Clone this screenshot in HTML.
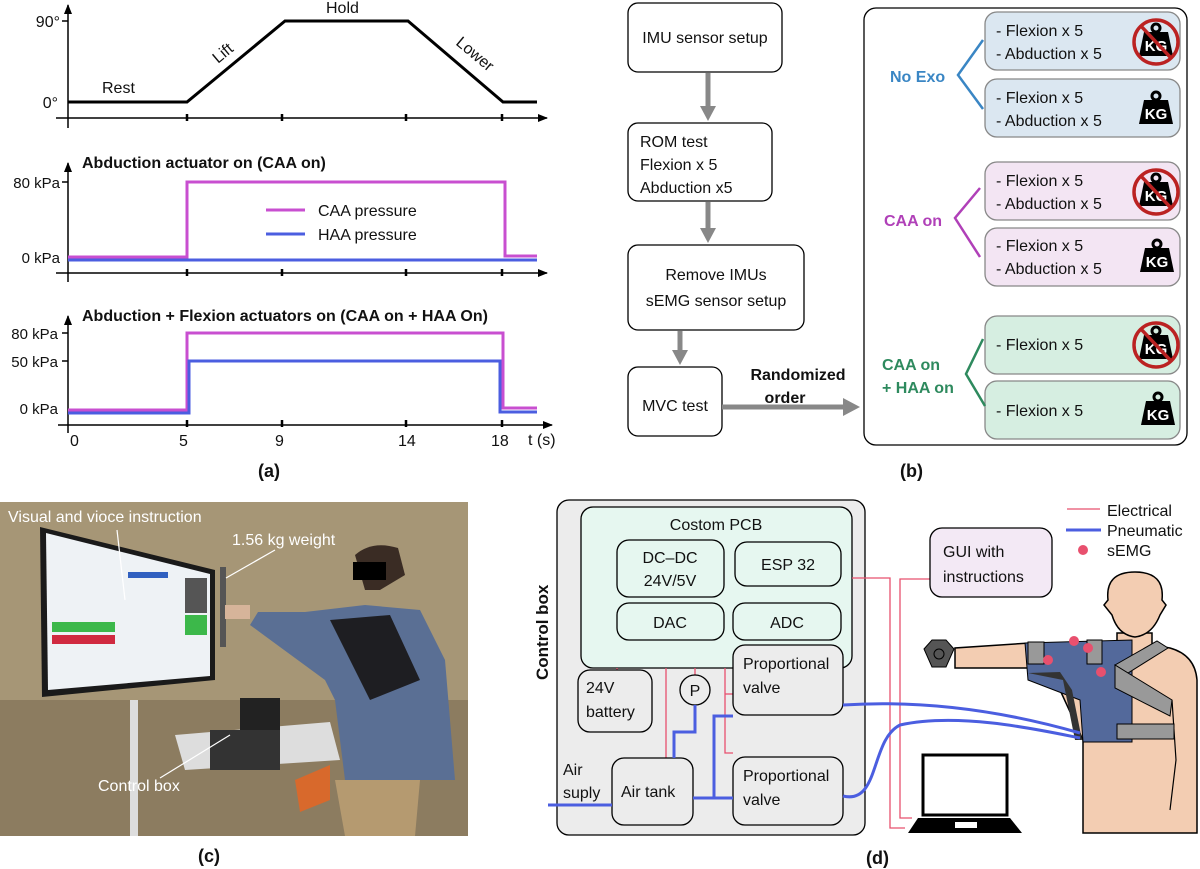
<!DOCTYPE html>
<html><head><meta charset="utf-8"><style>
html,body{margin:0;padding:0;background:#fff}
svg{display:block}
text{font-family:"Liberation Sans",sans-serif;fill:#111}
.b{font-weight:bold}
</style></head><body>
<svg width="1200" height="869" viewBox="0 0 1200 869" xmlns="http://www.w3.org/2000/svg">
<defs>
<marker id="ar" markerWidth="10" markerHeight="8" refX="9" refY="4" orient="auto" markerUnits="userSpaceOnUse"><path d="M0,0 L10,4 L0,8 Z" fill="#000"/></marker>
<g id="kg"><circle cx="0" cy="-14" r="4" fill="none" stroke="#000" stroke-width="3"/><path d="M-12,-10 L12,-10 L17,14 L-17,14 Z" fill="#000"/><text x="0" y="9" font-size="15" class="b" text-anchor="middle" style="fill:#fff">KG</text></g>
<g id="nokg"><use href="#kg"/><circle cx="0" cy="0" r="22" fill="none" stroke="#b22" stroke-width="3.5"/><line x1="-15" y1="-16" x2="15" y2="16" stroke="#b22" stroke-width="3.5"/></g>
</defs>

<!-- (a) top chart -->
<g stroke="#000" stroke-width="1.5" fill="none">
<line x1="68" y1="128" x2="68" y2="5" marker-end="url(#ar)"/>
<line x1="56" y1="118" x2="547" y2="118" marker-end="url(#ar)"/>
<line x1="62" y1="21" x2="68" y2="21"/>
<path d="M187,114V121M282,114V121M406,114V121M502,114V121" stroke-width="2.5"/>
<polyline points="68,102 187,102 285,21 408,21 503,102 537,102" stroke-width="3"/>
</g>
<text x="60" y="27" font-size="16" text-anchor="end">90°</text>
<text x="58" y="108" font-size="16" text-anchor="end">0°</text>
<text x="102" y="93" font-size="16">Rest</text>
<text x="326" y="13" font-size="16">Hold</text>
<text x="0" y="0" font-size="16" transform="translate(218,64) rotate(-40)">Lift</text>
<text x="0" y="0" font-size="16" transform="translate(455,44) rotate(40)">Lower</text>

<!-- chart 2 -->
<g stroke="#000" stroke-width="1.5" fill="none">
<line x1="68" y1="282" x2="68" y2="163" marker-end="url(#ar)"/>
<line x1="56" y1="273" x2="547" y2="273" marker-end="url(#ar)"/>
<line x1="62" y1="182" x2="68" y2="182"/>
<path d="M187,269V276M282,269V276M406,269V276M502,269V276" stroke-width="2.5"/>
</g>
<polyline points="68,257 187,257 187,182 505,182 505,256 537,256" fill="none" stroke="#c84fd0" stroke-width="3"/>
<line x1="68" y1="260" x2="537" y2="260" stroke="#4b5ee0" stroke-width="3"/>
<text x="82" y="168" font-size="16" class="b">Abduction actuator on (CAA on)</text>
<text x="60" y="188" font-size="15" text-anchor="end">80 kPa</text>
<text x="60" y="263" font-size="15" text-anchor="end">0 kPa</text>
<line x1="266" y1="210" x2="305" y2="210" stroke="#c84fd0" stroke-width="3"/>
<line x1="266" y1="234" x2="305" y2="234" stroke="#4b5ee0" stroke-width="3"/>
<text x="318" y="216" font-size="16">CAA pressure</text>
<text x="318" y="240" font-size="16">HAA pressure</text>

<!-- chart 3 -->
<g stroke="#000" stroke-width="1.5" fill="none">
<line x1="68" y1="433" x2="68" y2="316" marker-end="url(#ar)"/>
<line x1="58" y1="425" x2="552" y2="425" marker-end="url(#ar)"/>
<line x1="62" y1="333" x2="68" y2="333"/><line x1="62" y1="361" x2="68" y2="361"/>
<path d="M187,420V427M282,420V427M406,420V427M502,420V427" stroke-width="2.5"/>
</g>
<polyline points="68,410 187,410 187,333 503,333 503,408 537,408" fill="none" stroke="#c84fd0" stroke-width="3"/>
<polyline points="68,413 189,413 189,361 500,361 500,412 537,412" fill="none" stroke="#4b5ee0" stroke-width="3"/>
<text x="82" y="321" font-size="16" class="b">Abduction + Flexion actuators on (CAA on + HAA On)</text>
<text x="58" y="339" font-size="15" text-anchor="end">80 kPa</text>
<text x="58" y="367" font-size="15" text-anchor="end">50 kPa</text>
<text x="58" y="414" font-size="15" text-anchor="end">0 kPa</text>
<g font-size="16"><text x="70" y="446">0</text><text x="179" y="446">5</text><text x="275" y="446">9</text><text x="398" y="446">14</text><text x="491" y="446">18</text><text x="528" y="445">t (s)</text></g>
<text x="258" y="477" font-size="18" class="b">(a)</text>

<!-- (b) -->
<g fill="#fff" stroke="#000" stroke-width="1.3">
<rect x="628" y="3" width="154" height="69" rx="10"/>
<rect x="628" y="123" width="144" height="78" rx="10"/>
<rect x="628" y="245" width="176" height="85" rx="10"/>
<rect x="628" y="367" width="94" height="69" rx="10"/>
<rect x="864" y="8" width="323" height="437" rx="12"/>
</g>
<g font-size="16"><text x="705" y="43" text-anchor="middle">IMU sensor setup</text>
<text x="640" y="147">ROM test</text><text x="640" y="170">Flexion x 5</text><text x="640" y="193">Abduction x5</text>
<text x="716" y="280" text-anchor="middle">Remove IMUs</text><text x="716" y="306" text-anchor="middle">sEMG sensor setup</text>
<text x="675" y="411" text-anchor="middle">MVC test</text></g>
<g stroke="#888" stroke-width="5"><line x1="708" y1="73" x2="708" y2="108"/><line x1="708" y1="202" x2="708" y2="230"/><line x1="680" y1="331" x2="680" y2="352"/><line x1="722" y1="407" x2="845" y2="407"/></g>
<path d="M700,106 L716,106 L708,121 Z M700,228 L716,228 L708,243 Z M672,350 L688,350 L680,365 Z M843,398 L860,407 L843,416 Z" fill="#888"/>
<text x="798" y="380" font-size="16" class="b" text-anchor="middle">Randomized</text>
<text x="785" y="403" font-size="16" class="b" text-anchor="middle">order</text>
<g stroke="#888" stroke-width="1.3">
<rect x="985" y="12" width="195" height="58" rx="12" fill="#dbe7f1"/>
<rect x="985" y="79" width="195" height="58" rx="12" fill="#dbe7f1"/>
<rect x="985" y="162" width="195" height="58" rx="12" fill="#f3e5f3"/>
<rect x="985" y="228" width="195" height="58" rx="12" fill="#f3e5f3"/>
<rect x="985" y="316" width="195" height="58" rx="12" fill="#d6eee1"/>
<rect x="985" y="381" width="195" height="58" rx="12" fill="#d6eee1"/>
</g>
<g font-size="16">
<text x="996" y="36">- Flexion x 5</text><text x="996" y="59">- Abduction x 5</text>
<text x="996" y="103">- Flexion x 5</text><text x="996" y="126">- Abduction x 5</text>
<text x="996" y="186">- Flexion x 5</text><text x="996" y="209">- Abduction x 5</text>
<text x="996" y="251">- Flexion x 5</text><text x="996" y="274">- Abduction x 5</text>
<text x="996" y="350">- Flexion x 5</text><text x="996" y="416">- Flexion x 5</text>
</g>
<use href="#nokg" x="1156" y="42"/><use href="#kg" x="1156" y="110"/>
<use href="#nokg" x="1156" y="192"/><use href="#kg" x="1157" y="258"/>
<use href="#nokg" x="1156" y="345"/><use href="#kg" x="1158" y="411"/>
<polyline points="983,40 958,75 983,109" fill="none" stroke="#3a86c4" stroke-width="2.5"/>
<polyline points="980,188 955,218 980,257" fill="none" stroke="#b040b8" stroke-width="2.5"/>
<polyline points="983,339 966,374 985,406" fill="none" stroke="#2e8a5e" stroke-width="2.5"/>
<text x="890" y="82" font-size="16" class="b" style="fill:#3a86c4">No Exo</text>
<text x="884" y="226" font-size="16" class="b" style="fill:#b040b8">CAA on</text>
<text x="882" y="370" font-size="16" class="b" style="fill:#2e8a5e">CAA  on</text>
<text x="882" y="393" font-size="16" class="b" style="fill:#2e8a5e">+ HAA on</text>
<text x="900" y="477" font-size="18" class="b">(b)</text>

<!-- (c) photo -->
<rect x="0" y="502" width="468" height="334" fill="#a69676"/>
<rect x="0" y="700" width="468" height="136" fill="#8c7c60"/>
<polygon points="40,527 215,570 215,680 42,697" fill="#1a1a1a"/>
<polygon points="46,533 210,574 210,676 48,690" fill="#eef2f5"/>
<rect x="52" y="622" width="63" height="10" fill="#3cb84a"/>
<rect x="52" y="635" width="63" height="9" fill="#d02a40"/>
<rect x="185" y="578" width="22" height="35" fill="#555"/><rect x="185" y="615" width="22" height="20" fill="#3cb84a"/>
<rect x="128" y="572" width="40" height="6" fill="#3060c0"/>
<rect x="130" y="700" width="8" height="136" fill="#ddd"/>
<polygon points="175,735 330,722 340,760 185,770" fill="#ddd"/>
<rect x="210" y="730" width="70" height="40" fill="#333"/>
<rect x="240" y="698" width="40" height="32" fill="#222"/>
<path d="M295,780 L330,765 L330,800 L300,812 Z" fill="#d8692c"/>
<rect x="220" y="567" width="6" height="80" fill="#555"/>
<path d="M355,555 Q372,540 398,548 L405,575 L380,590 L365,590 Z" fill="#3a2c24"/>
<rect x="353" y="562" width="33" height="18" fill="#000"/>
<path d="M365,605 L420,610 L445,660 L455,780 L345,780 L335,700 L325,680 L250,625 L258,612 L305,612 Z" fill="#5a6f94"/>
<path d="M330,620 L390,615 L420,680 L370,700 Z" fill="#1e1e22"/>
<rect x="225" y="605" width="25" height="14" fill="#d6b49a"/>
<path d="M335,780 L420,780 L415,836 L345,836 Z" fill="#b59a70"/>
<line x1="117" y1="530" x2="125" y2="600" stroke="#fff" stroke-width="1.2"/>
<line x1="275" y1="550" x2="226" y2="578" stroke="#fff" stroke-width="1.2"/>
<line x1="160" y1="778" x2="230" y2="735" stroke="#fff" stroke-width="1.2"/>
<text x="8" y="522" font-size="16" style="fill:#fff">Visual and vioce instruction</text>
<text x="232" y="545" font-size="16" style="fill:#fff">1.56 kg weight</text>
<text x="98" y="791" font-size="16" style="fill:#fff">Control box</text>
<text x="198" y="862" font-size="18" class="b">(c)</text>

<!-- (d) -->
<rect x="557" y="500" width="308" height="335" rx="12" fill="#ececec" stroke="#000" stroke-width="1.3"/>
<rect x="581" y="507" width="271" height="161" rx="12" fill="#e6f7f0" stroke="#000" stroke-width="1.3"/>
<g fill="#e6f7f0" stroke="#000" stroke-width="1.3">
<rect x="617" y="540" width="107" height="57" rx="12"/><rect x="735" y="542" width="106" height="44" rx="12"/>
<rect x="617" y="603" width="107" height="37" rx="12"/><rect x="733" y="603" width="108" height="37" rx="12"/>
</g>
<g stroke="#e8506e" stroke-width="1.3" fill="none">
<line x1="617" y1="668" x2="617" y2="671"/><line x1="666" y1="668" x2="666" y2="758"/>
<line x1="695" y1="668" x2="695" y2="676"/>
<polyline points="725,668 725,753 733,753"/><line x1="725" y1="694" x2="733" y2="694"/>
<polyline points="852,578 890,578 890,828 905,828"/>
<polyline points="930,579 900,579 900,818 912,818"/>
<line x1="1067" y1="509" x2="1100" y2="509"/>
</g>
<g fill="#ececec" stroke="#000" stroke-width="1.3">
<rect x="578" y="670" width="74" height="62" rx="12"/>
<rect x="733" y="645" width="110" height="70" rx="12"/>
<rect x="612" y="758" width="81" height="67" rx="12"/>
<rect x="733" y="757" width="110" height="68" rx="12"/>
<circle cx="695" cy="690" r="15"/>
</g>
<g stroke="#4b5ee0" stroke-width="3" fill="none">
<line x1="548" y1="805" x2="612" y2="805"/>
<polyline points="695,705 695,732 674,732 674,758"/>
<polyline points="693,798 733,798"/><polyline points="714,798 714,716 733,716"/>
<line x1="1066" y1="530" x2="1101" y2="530"/>
</g>
<circle cx="1083" cy="550" r="5" fill="#e8506e"/>
<g font-size="16">
<text x="716" y="530" text-anchor="middle">Costom PCB</text>
<text x="670" y="563" text-anchor="middle">DC–DC</text><text x="670" y="586" text-anchor="middle">24V/5V</text>
<text x="788" y="570" text-anchor="middle">ESP 32</text>
<text x="670" y="628" text-anchor="middle">DAC</text><text x="787" y="628" text-anchor="middle">ADC</text>
<text x="586" y="693">24V</text><text x="586" y="717">battery</text>
<text x="695" y="696" text-anchor="middle">P</text>
<text x="743" y="669">Proportional</text><text x="743" y="693">valve</text>
<text x="743" y="781">Proportional</text><text x="743" y="805">valve</text>
<text x="621" y="797">Air tank</text>
<text x="563" y="775">Air</text><text x="563" y="798">suply</text>
<text x="1107" y="516">Electrical</text><text x="1107" y="536">Pneumatic</text><text x="1107" y="556">sEMG</text>
</g>
<text x="0" y="0" font-size="17" class="b" transform="translate(548,680) rotate(-90)">Control box</text>
<rect x="930" y="528" width="122" height="69" rx="12" fill="#f3e9f5" stroke="#000" stroke-width="1.3"/>
<text x="943" y="557" font-size="16">GUI with</text><text x="943" y="582" font-size="16">instructions</text>
<!-- laptop -->
<rect x="923" y="755" width="84" height="60" fill="#fff" stroke="#000" stroke-width="3"/>
<path d="M918,818 L1010,818 L1022,833 L908,833 Z" fill="#000"/><rect x="955" y="822" width="22" height="6" fill="#fff"/>
<!-- human -->
<path d="M1117,633 L1117,645 L1070,648 L1030,643 L955,648 L955,668 L1030,668 L1060,690 L1083,740 L1083,833 L1197,833 L1197,680 Q1195,655 1170,648 L1152,645 L1152,633 Z" fill="#f3cdb2" stroke="#000" stroke-width="1.5"/>
<path d="M1172,700 L1176,760 L1170,810" fill="none" stroke="#000" stroke-width="1.2"/>
<path d="M1108,600 Q1105,572 1135,572 Q1165,572 1162,600 L1166,605 L1160,615 Q1152,635 1135,637 Q1118,635 1112,615 L1104,605 Z" fill="#f3cdb2" stroke="#000" stroke-width="1.5"/>
<path d="M1025,643 L1132,640 L1132,742 L1083,742 L1080,700 L1028,680 Z" fill="#53699b" stroke="#000" stroke-width="1"/>
<path d="M1028,673 L1063,680 L1075,740 L1082,740 L1072,690 L1060,672 Z" fill="#333"/>
<polygon points="1115,665 1157,641 1168,648 1128,673" fill="#999" stroke="#000"/>
<polygon points="1115,665 1128,673 1172,700 1170,716 1115,688" fill="#999" stroke="#000"/>
<rect x="1117" y="724" width="57" height="15" fill="#999" stroke="#000"/>
<rect x="1028" y="642" width="16" height="22" fill="#999" stroke="#000"/><rect x="1087" y="640" width="15" height="24" fill="#999" stroke="#000"/>
<polygon points="924,649 932,640 946,640 954,649 946,667 932,667" fill="#555" stroke="#000"/><circle cx="939" cy="654" r="5" fill="none" stroke="#000"/>
<g fill="#e8506e"><circle cx="1074" cy="641" r="5"/><circle cx="1048" cy="660" r="5"/><circle cx="1088" cy="648" r="5"/><circle cx="1101" cy="672" r="5"/></g>
<g stroke="#4b5ee0" stroke-width="3" fill="none">
<path d="M843,705 C920,700 1000,710 1080,733"/>
<path d="M843,796 C880,805 870,740 900,725 C960,712 1040,730 1080,738"/>
</g>
<text x="866" y="864" font-size="18" class="b">(d)</text>
</svg>
</body></html>
